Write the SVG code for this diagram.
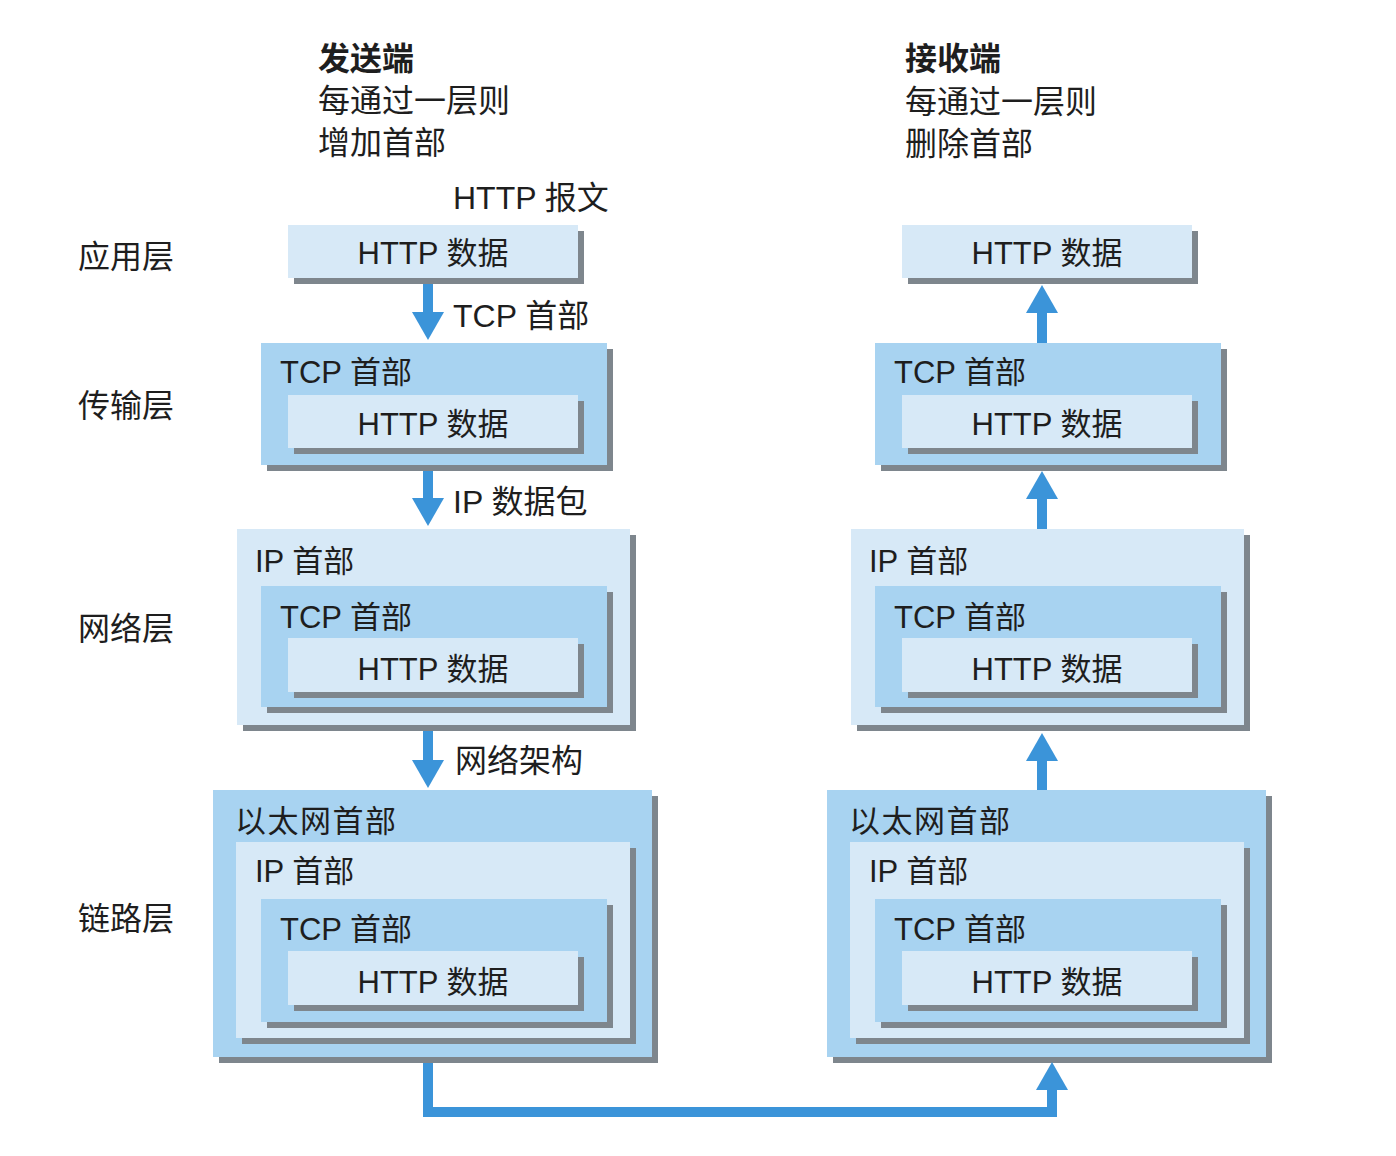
<svg xmlns="http://www.w3.org/2000/svg" width="1396" height="1156" viewBox="0 0 1396 1156">
<style>
text{font-family:"Liberation Sans","Noto Sans CJK SC",sans-serif;fill:#1e1e1e}
.h{font-size:32px}
.b{font-weight:bold}
.t{font-size:31px}
.c{text-anchor:middle}
.lt{fill:#d7e9f7}
.md{fill:#a8d3f1}
.sh{fill:#7e868d}
.ln{fill:none;stroke:#3b94d9;stroke-width:10;stroke-linejoin:miter}
</style>
<defs>
<marker id="ah" markerUnits="userSpaceOnUse" viewBox="0 0 28 32" markerWidth="28" markerHeight="32" refX="0" refY="16" orient="auto">
<path d="M0,0 L28,16 L0,32 z" fill="#3b94d9"/>
</marker>
</defs>
<rect width="1396" height="1156" fill="#ffffff"/>

<g id="headers">
<text class="h b" x="318" y="70">发送端</text>
<text class="h" x="318" y="112">每通过一层则</text>
<text class="h" x="318" y="154">增加首部</text>
<text class="h b" x="905" y="70">接收端</text>
<text class="h" x="905" y="113">每通过一层则</text>
<text class="h" x="905" y="155">删除首部</text>
</g>

<g id="layers">
<text class="h" x="78" y="268">应用层</text>
<text class="h" x="78" y="417">传输层</text>
<text class="h" x="78" y="640">网络层</text>
<text class="h" x="78" y="930">链路层</text>
</g>

<g id="labels">
<text class="h" x="453" y="209">HTTP 报文</text>
<text class="h" x="453" y="327">TCP 首部</text>
<text class="h" x="453" y="513">IP 数据包</text>
<text class="h" x="455" y="772">网络架构</text>
</g>

<g id="send-app">
<rect class="sh" x="294" y="231" width="290" height="53"/>
<rect class="lt" x="288" y="225" width="290" height="53"/>
<text class="t c" x="433" y="264">HTTP 数据</text>
</g>

<g id="send-transport">
<rect class="sh" x="267" y="349" width="346" height="122"/>
<rect class="md" x="261" y="343" width="346" height="122"/>
<text class="t" x="280" y="383">TCP 首部</text>
<rect class="sh" x="294" y="401" width="290" height="53"/>
<rect class="lt" x="288" y="395" width="290" height="53"/>
<text class="t c" x="433" y="435">HTTP 数据</text>
</g>

<g id="send-network">
<rect class="sh" x="243" y="535" width="393" height="196"/>
<rect class="lt" x="237" y="529" width="393" height="196"/>
<text class="t" x="255" y="572">IP 首部</text>
<rect class="sh" x="267" y="592" width="346" height="121"/>
<rect class="md" x="261" y="586" width="346" height="121"/>
<text class="t" x="280" y="628">TCP 首部</text>
<rect class="sh" x="294" y="644" width="290" height="54"/>
<rect class="lt" x="288" y="638" width="290" height="54"/>
<text class="t c" x="433" y="680">HTTP 数据</text>
</g>

<g id="send-link">
<rect class="sh" x="219" y="796" width="439" height="267"/>
<rect class="md" x="213" y="790" width="439" height="267"/>
<text class="t" x="235" y="832" letter-spacing="1.5">以太网首部</text>
<rect class="sh" x="242" y="848" width="394" height="196"/>
<rect class="lt" x="236" y="842" width="394" height="196"/>
<text class="t" x="255" y="882">IP 首部</text>
<rect class="sh" x="267" y="905" width="346" height="123"/>
<rect class="md" x="261" y="899" width="346" height="123"/>
<text class="t" x="280" y="940">TCP 首部</text>
<rect class="sh" x="294" y="957" width="290" height="54"/>
<rect class="lt" x="288" y="951" width="290" height="54"/>
<text class="t c" x="433" y="993">HTTP 数据</text>
</g>

<g id="recv-app" transform="translate(614,0)">
<rect class="sh" x="294" y="231" width="290" height="53"/>
<rect class="lt" x="288" y="225" width="290" height="53"/>
<text class="t c" x="433" y="264">HTTP 数据</text>
</g>

<g id="recv-transport" transform="translate(614,0)">
<rect class="sh" x="267" y="349" width="346" height="122"/>
<rect class="md" x="261" y="343" width="346" height="122"/>
<text class="t" x="280" y="383">TCP 首部</text>
<rect class="sh" x="294" y="401" width="290" height="53"/>
<rect class="lt" x="288" y="395" width="290" height="53"/>
<text class="t c" x="433" y="435">HTTP 数据</text>
</g>

<g id="recv-network" transform="translate(614,0)">
<rect class="sh" x="243" y="535" width="393" height="196"/>
<rect class="lt" x="237" y="529" width="393" height="196"/>
<text class="t" x="255" y="572">IP 首部</text>
<rect class="sh" x="267" y="592" width="346" height="121"/>
<rect class="md" x="261" y="586" width="346" height="121"/>
<text class="t" x="280" y="628">TCP 首部</text>
<rect class="sh" x="294" y="644" width="290" height="54"/>
<rect class="lt" x="288" y="638" width="290" height="54"/>
<text class="t c" x="433" y="680">HTTP 数据</text>
</g>

<g id="recv-link" transform="translate(614,0)">
<rect class="sh" x="219" y="796" width="439" height="267"/>
<rect class="md" x="213" y="790" width="439" height="267"/>
<text class="t" x="235" y="832" letter-spacing="1.5">以太网首部</text>
<rect class="sh" x="242" y="848" width="394" height="196"/>
<rect class="lt" x="236" y="842" width="394" height="196"/>
<text class="t" x="255" y="882">IP 首部</text>
<rect class="sh" x="267" y="905" width="346" height="123"/>
<rect class="md" x="261" y="899" width="346" height="123"/>
<text class="t" x="280" y="940">TCP 首部</text>
<rect class="sh" x="294" y="957" width="290" height="54"/>
<rect class="lt" x="288" y="951" width="290" height="54"/>
<text class="t c" x="433" y="993">HTTP 数据</text>
</g>

<g id="connectors">
<line class="ln" x1="428" y1="284" x2="428" y2="312" marker-end="url(#ah)"/>
<line class="ln" x1="428" y1="471" x2="428" y2="498" marker-end="url(#ah)"/>
<line class="ln" x1="428" y1="731" x2="428" y2="760" marker-end="url(#ah)"/>
<line class="ln" x1="1042" y1="343" x2="1042" y2="313" marker-end="url(#ah)"/>
<line class="ln" x1="1042" y1="529" x2="1042" y2="499" marker-end="url(#ah)"/>
<line class="ln" x1="1042" y1="790" x2="1042" y2="761" marker-end="url(#ah)"/>
<path class="ln" d="M428,1063 V1112 H1052 V1090" marker-end="url(#ah)"/>
</g>
</svg>
